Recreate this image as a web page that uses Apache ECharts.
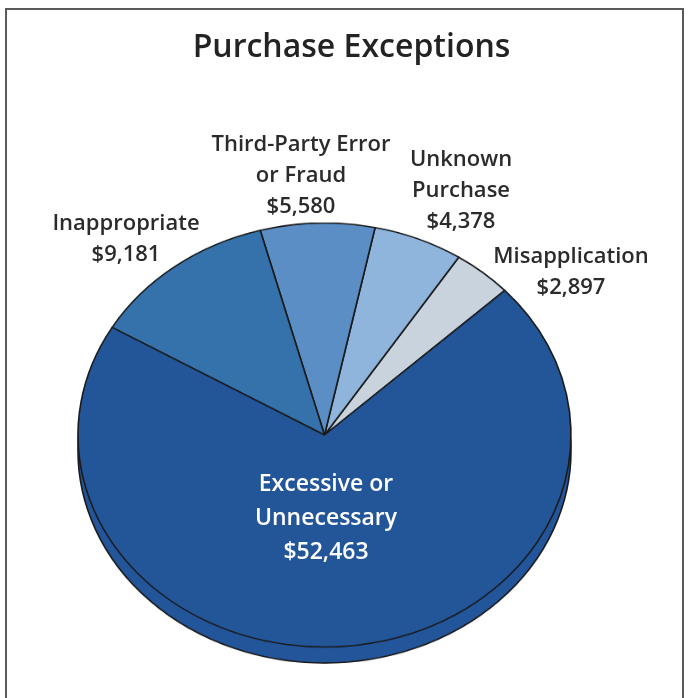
<!DOCTYPE html>
<html>
<head>
<meta charset="utf-8">
<script src="https://cdn.jsdelivr.net/npm/echarts@6/dist/echarts.min.js"></script>
<style>
  html, body { margin: 0; padding: 0; background: #fff; }
  #wrap { position: relative; width: 689px; height: 698px; overflow: hidden; }
  /* pie is drawn as a circle, then squashed into the tilted ellipse */
  #pie { position: absolute; left: 0; top: 188px; width: 689px; height: 540px;
         transform: scaleY(0.86); transform-origin: 0 247px; }
  #labels { position: absolute; left: 0; top: 0; width: 689px; height: 698px; pointer-events: none; }
</style>
</head>
<body>
<div id="wrap">
  <div id="pie"></div>
  <div id="labels"></div>
</div>
<script>
var title = 'Purchase Exceptions';
var categories = ['Misapplication', 'Unknown\nPurchase', 'Third-Party Error\nor Fraud', 'Inappropriate', 'Excessive or\nUnnecessary'];
var values = [2897, 4378, 5580, 9181, 52463];
var colors = ['#c8d3de', '#8fb5dd', '#5a8ec5', '#3572ac', '#235698'];

// label anchor (centre x, first line centre y), layout only
var labelPos = [[571, 257], [461, 160], [301, 145], [126, 224], [326, 484]];
var labelColor = ['#2b2b2b', '#2b2b2b', '#2b2b2b', '#2b2b2b', '#fff'];

var pieChart = echarts.init(document.getElementById('pie'), null, { renderer: 'canvas' });
var cx = 324.5, cy = 247, r = 246.5;

pieChart.setOption({
  animation: false,
  series: [
    {
      // the rim (side of the disc)
      type: 'pie',
      silent: true,
      center: [cx, cy + 18.6],
      radius: r,
      label: { show: false },
      labelLine: { show: false },
      itemStyle: { color: '#22559a', borderColor: '#1a1a1a', borderWidth: 1.6 },
      data: [values.reduce(function (a, b) { return a + b; }, 0)]
    },
    {
      type: 'pie',
      silent: true,
      center: [cx, cy],
      radius: r,
      startAngle: 43,
      clockwise: false,
      avoidLabelOverlap: false,
      minAngle: 0,
      label: { show: false },
      labelLine: { show: false },
      itemStyle: { borderColor: '#1a1a1a', borderWidth: 1.6 },
      data: values.map(function (v, i) {
        return { name: categories[i], value: v, itemStyle: { color: colors[i] } };
      })
    }
  ]
});

var textChart = echarts.init(document.getElementById('labels'));
var font = '"Open Sans", "DejaVu Sans", sans-serif';
var graphics = [
  {
    type: 'rect',
    shape: { x: 6, y: 9, width: 677, height: 720 },
    style: { fill: 'none', stroke: '#5a5a5a', lineWidth: 2 }
  },
  {
    type: 'text',
    style: {
      text: title, x: 351.5, y: 48, align: 'center', verticalAlign: 'middle',
      fontFamily: font, fontSize: 32, fontWeight: 600, fill: '#232323'
    }
  }
];
categories.forEach(function (name, i) {
  var lh = i === 4 ? 34 : 31;
  graphics.push({
    type: 'text',
    style: {
      text: name + '\n$' + values[i].toLocaleString('en-US'),
      x: labelPos[i][0], y: labelPos[i][1] - lh / 2,
      align: 'center', verticalAlign: 'top', lineHeight: lh,
      fontFamily: font, fontSize: i === 4 ? 23 : 22, fontWeight: 600, fill: labelColor[i]
    }
  });
});
textChart.setOption({ animation: false, graphic: graphics });
</script>
</body>
</html>
